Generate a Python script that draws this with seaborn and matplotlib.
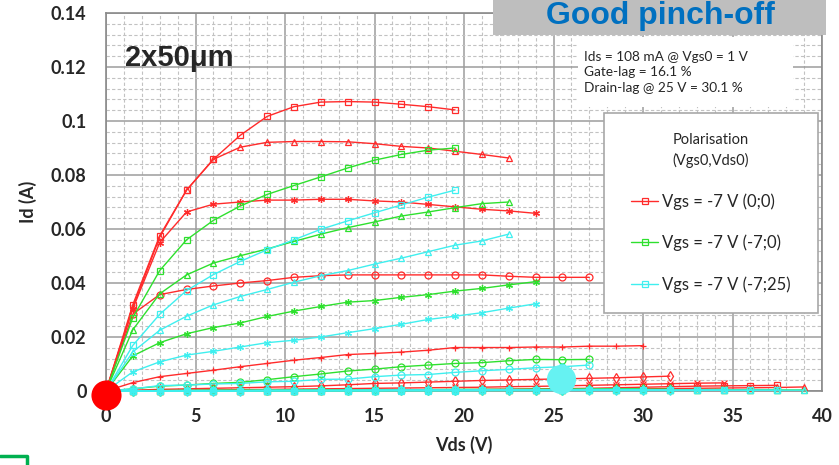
import pandas as pd
import matplotlib
matplotlib.use("Agg")
import matplotlib.pyplot as plt
from matplotlib.lines import Line2D
from matplotlib.patches import Rectangle
from matplotlib.ticker import MultipleLocator, FuncFormatter
import seaborn as sns

# Vds (V) : pas de 1.5 V
VDS = [0, 1.5, 3, 4.5, 6, 7.5, 9, 10.5, 12, 13.5, 15, 16.5, 18, 19.5, 21,
       22.5, 24, 25.5, 27, 28.5, 30, 31.5, 33, 34.5, 36, 37.5, 39]

# Polarisation (0;0) - rouge, une courbe par Vgs
rouge = [
    [0, 0.032, 0.0575, 0.0744, 0.0858, 0.0947, 0.1017, 0.1053, 0.1070, 0.1072, 0.1070, 0.1062, 0.1053, 0.1041],
    [0, 0.031, 0.0570, 0.0744, 0.0858, 0.0903, 0.0921, 0.0924, 0.0924, 0.0923, 0.0916, 0.0906, 0.0900, 0.0888, 0.0876, 0.0863],
    [0, 0.0305, 0.0550, 0.0663, 0.0692, 0.0700, 0.0707, 0.0707, 0.0710, 0.0710, 0.0704, 0.0700, 0.0691, 0.0682, 0.0673, 0.0667, 0.0658],
    [0, 0.0285, 0.0357, 0.0376, 0.0389, 0.0400, 0.0409, 0.0421, 0.0427, 0.0430, 0.0430, 0.0430, 0.0430, 0.0430, 0.0430, 0.0425, 0.0421, 0.0421, 0.0421],
    [0, 0.0031, 0.0053, 0.0065, 0.0077, 0.0090, 0.0102, 0.0114, 0.0124, 0.0135, 0.0139, 0.0144, 0.0151, 0.0161, 0.0161, 0.0161, 0.0163, 0.0163, 0.0166, 0.0166, 0.0168],
    [0, 0.0003, 0.0006, 0.0008, 0.0010, 0.0012, 0.0014, 0.0016, 0.0019, 0.0023, 0.0028, 0.0030, 0.0033, 0.0036, 0.0039, 0.0041, 0.0043, 0.0045, 0.0047, 0.0049, 0.0052, 0.0055],
    [0, 0.0001, 0.0002, 0.0003, 0.0004, 0.0005, 0.0006, 0.0007, 0.0008, 0.0009, 0.0010, 0.0011, 0.0012, 0.0013, 0.0014, 0.0016, 0.0017, 0.0019, 0.0021, 0.0023, 0.0025, 0.0027, 0.0029, 0.0030],
    [0, 0, 0, 0.0001, 0.0001, 0.0001, 0.0002, 0.0002, 0.0002, 0.0003, 0.0003, 0.0004, 0.0004, 0.0005, 0.0006, 0.0007, 0.0008, 0.0009, 0.0010, 0.0012, 0.0014, 0.0016, 0.0018, 0.0019, 0.0020, 0.0021],
    [0, 0, 0, 0, 0, 0.0001, 0.0001, 0.0001, 0.0001, 0.0002, 0.0002, 0.0002, 0.0003, 0.0003, 0.0004, 0.0004, 0.0005, 0.0005, 0.0006, 0.0007, 0.0008, 0.0009, 0.0010, 0.0011, 0.0012, 0.0013, 0.0015],
]

# Polarisation (-7;0) - vert
vert = [
    [0, 0.0272, 0.0446, 0.0560, 0.0632, 0.0685, 0.0728, 0.0761, 0.0793, 0.0826, 0.0855, 0.0876, 0.0892, 0.0900],
    [0, 0.0227, 0.0360, 0.0430, 0.0474, 0.0501, 0.0526, 0.0554, 0.0581, 0.0605, 0.0626, 0.0648, 0.0663, 0.0679, 0.0694, 0.0700],
    [0, 0.0130, 0.0179, 0.0212, 0.0235, 0.0252, 0.0276, 0.0296, 0.0313, 0.0329, 0.0335, 0.0347, 0.0357, 0.0370, 0.0380, 0.0393, 0.0405],
    [0, 0.0008, 0.0018, 0.0022, 0.0028, 0.0032, 0.0042, 0.0053, 0.0063, 0.0074, 0.0081, 0.0090, 0.0096, 0.0102, 0.0105, 0.0112, 0.0117, 0.0116, 0.0117],
    [0, 0.0001, 0.0002, 0.0002, 0.0003, 0.0003, 0.0003, 0.0004, 0.0004, 0.0004, 0.0005, 0.0005, 0.0005, 0.0006, 0.0006, 0.0006, 0.0007, 0.0007, 0.0008, 0.0008, 0.0009],
    [0, 0.0001, 0.0001, 0.0002, 0.0002, 0.0002, 0.0003, 0.0003, 0.0003, 0.0003, 0.0004, 0.0004, 0.0004, 0.0004, 0.0005, 0.0005, 0.0005, 0.0005, 0.0006, 0.0006, 0.0006, 0.0007],
    [0, 0, 0.0001, 0.0001, 0.0001, 0.0001, 0.0002, 0.0002, 0.0002, 0.0002, 0.0002, 0.0003, 0.0003, 0.0003, 0.0003, 0.0003, 0.0004, 0.0004, 0.0004, 0.0004, 0.0005, 0.0005, 0.0005, 0.0006],
    [0, 0, 0, 0.0001, 0.0001, 0.0001, 0.0001, 0.0001, 0.0002, 0.0002, 0.0002, 0.0002, 0.0002, 0.0002, 0.0003, 0.0003, 0.0003, 0.0003, 0.0003, 0.0004, 0.0004, 0.0004, 0.0004, 0.0004, 0.0005, 0.0005],
    [0, 0, 0, 0, 0, 0.0001, 0.0001, 0.0001, 0.0001, 0.0001, 0.0001, 0.0002, 0.0002, 0.0002, 0.0002, 0.0002, 0.0002, 0.0003, 0.0003, 0.0003, 0.0003, 0.0003, 0.0003, 0.0004, 0.0004, 0.0004, 0.0004],
]

# Polarisation (-7;25) - cyan
cyan = [
    [0, 0.0169, 0.0284, 0.0372, 0.0431, 0.0480, 0.0523, 0.0560, 0.0599, 0.0630, 0.0660, 0.0689, 0.0718, 0.0744],
    [0, 0.0145, 0.0225, 0.0277, 0.0319, 0.0350, 0.0376, 0.0403, 0.0427, 0.0446, 0.0470, 0.0492, 0.0516, 0.0540, 0.0556, 0.0581],
    [0, 0.0071, 0.0108, 0.0133, 0.0147, 0.0163, 0.0179, 0.0188, 0.0200, 0.0216, 0.0231, 0.0247, 0.0265, 0.0277, 0.0290, 0.0307, 0.0323],
    [0, 0.0008, 0.0020, 0.0022, 0.0026, 0.0028, 0.0034, 0.0036, 0.0043, 0.0044, 0.0053, 0.0059, 0.0061, 0.0069, 0.0075, 0.0080, 0.0086, 0.0090, 0.0096],
    [0, 0.0001, 0.0001, 0.0002, 0.0002, 0.0002, 0.0003, 0.0003, 0.0003, 0.0003, 0.0004, 0.0004, 0.0004, 0.0004, 0.0005, 0.0005, 0.0005, 0.0005, 0.0006, 0.0006, 0.0006],
    [0, 0, 0.0001, 0.0001, 0.0001, 0.0001, 0.0002, 0.0002, 0.0002, 0.0002, 0.0002, 0.0003, 0.0003, 0.0003, 0.0003, 0.0003, 0.0004, 0.0004, 0.0004, 0.0004, 0.0004, 0.0005],
    [0, 0, 0, 0.0001, 0.0001, 0.0001, 0.0001, 0.0001, 0.0001, 0.0002, 0.0002, 0.0002, 0.0002, 0.0002, 0.0002, 0.0003, 0.0003, 0.0003, 0.0003, 0.0003, 0.0003, 0.0003, 0.0004, 0.0004],
    [0, 0, 0, 0, 0.0001, 0.0001, 0.0001, 0.0001, 0.0001, 0.0001, 0.0001, 0.0002, 0.0002, 0.0002, 0.0002, 0.0002, 0.0002, 0.0002, 0.0003, 0.0003, 0.0003, 0.0003, 0.0003, 0.0003, 0.0003, 0.0003],
    [0, 0, 0, 0, 0, 0, 0.0001, 0.0001, 0.0001, 0.0001, 0.0001, 0.0001, 0.0001, 0.0001, 0.0002, 0.0002, 0.0002, 0.0002, 0.0002, 0.0002, 0.0002, 0.0002, 0.0002, 0.0003, 0.0003, 0.0003, 0.0003],
]

legendes = ["Vgs = -7 V (0;0)", "Vgs = -7 V (-7;0)", "Vgs = -7 V (-7;25)"]
infos = "Ids = 108 mA @ Vgs0 = 1 V\nGate-lag = 16.1 %\nDrain-lag @ 25 V = 30.1 %"

# points de polarisation (gros disques)
pol_vds = [0, 25.4]
pol_id = [-0.0013, 0.0043]

couleurs = ["#FF2B2B", "#2EE02E", "#3FEFEF"]
marqueurs = ["s", "^", (6, 2, 0), "o", "+", "d", "x", "s", "^"]

sns.set_theme(style="white")
plt.rcParams["font.family"] = ["Lato", "DejaVu Sans"]

fig = plt.figure(figsize=(8.39, 4.65), dpi=100)
ax = fig.add_axes([106 / 839, 74 / 465, 716 / 839, 378 / 465])

for famille, couleur in zip([rouge, vert, cyan], couleurs):
    for i, ids in enumerate(famille):
        df = pd.DataFrame({"Vds": VDS[:len(ids)], "Id": ids})
        sns.lineplot(data=df, x="Vds", y="Id", ax=ax, color=couleur, lw=1.0,
                     marker=marqueurs[i], ms=5, mfc="none", mec=couleur, mew=0.9,
                     sort=False, estimator=None, clip_on=False, zorder=3)

ax.scatter(pol_vds[:1], pol_id[:1], s=470, color="#FF0000", zorder=10, clip_on=False, linewidths=0)
ax.scatter(pol_vds[1:], pol_id[1:], s=440, color="#66F2F2", zorder=10, clip_on=False, linewidths=0)

ax.set_xlim(0, 40)
ax.set_ylim(0, 0.14)
ax.xaxis.set_major_locator(MultipleLocator(5))
ax.xaxis.set_minor_locator(MultipleLocator(1))
ax.yaxis.set_major_locator(MultipleLocator(0.02))
ax.yaxis.set_minor_locator(MultipleLocator(0.004))
ax.yaxis.set_major_formatter(FuncFormatter(lambda v, p: f"{v:g}"))
ax.grid(which="major", color="#9C9C9C", lw=1.1)
ax.grid(which="minor", color="#C2C2C2", lw=0.8, ls=(0, (3, 2)))
ax.set_axisbelow(True)
for s in ax.spines.values():
    s.set_color("#8A8A8A")
    s.set_linewidth(1.2)
ax.tick_params(which="both", length=0)
ax.tick_params(axis="y", pad=14, labelsize=13)
ax.tick_params(axis="x", pad=12, labelsize=13)
for t in ax.get_xticklabels() + ax.get_yticklabels():
    t.set_fontweight("bold")

ax.set_xlabel("Vds (V)", fontsize=13, fontweight="bold")
ax.set_ylabel("Id (A)", fontsize=13, fontweight="bold")
ax.xaxis.set_label_coords(0.5, -0.12)
ax.yaxis.set_label_coords(-0.097, 0.5)

ax.text(19 / 716, 1 - 45 / 378, "2x50μm", transform=ax.transAxes, fontsize=21,
        fontweight="bold", family=["Liberation Sans", "DejaVu Sans"], va="center", ha="left")

# cadre blanc des infos
ax.add_patch(Rectangle((0.659, 0.7513), 0.3005, 0.1852, transform=ax.transAxes,
                       facecolor="white", edgecolor="none", zorder=2))
ax.text(0.6676, 0.8439, infos, transform=ax.transAxes, fontsize=9.8,
        va="center", ha="left", linespacing=1.35, zorder=4)

# légende
ax.add_patch(Rectangle((0.6955, 0.2063), 0.2989, 0.5291, transform=ax.transAxes,
                       facecolor="white", edgecolor="#A8A8A8", lw=1.2, zorder=5))
poignees = [Line2D([], [], color=c, lw=1.0, marker="s", ms=5, mfc="none", mec=c, mew=0.9)
            for c in couleurs]
leg = ax.legend(poignees, legendes, title="Polarisation\n(Vgs0,Vds0)", loc="center",
                bbox_to_anchor=(0.845, 0.4708), frameon=False, fontsize=12,
                title_fontsize=10.5, labelspacing=1.5, handlelength=1.6,
                handletextpad=0.25, borderpad=0.2)
leg.get_title().set_multialignment("center")
leg.get_title().set_linespacing(1.45)
leg.set_zorder(6)

# bandeau "Good pinch-off"
fig.add_artist(Rectangle((493 / 839, 1 - 35 / 465), 333 / 839, 35 / 465, transform=fig.transFigure,
                         facecolor="#BEBEBE", edgecolor="none", zorder=20))
fig.text(660 / 839, 1 - 24 / 465, "Good pinch-off", color="#0070C0", fontsize=23,
         fontweight="bold", family=["Liberation Sans", "DejaVu Sans"],
         ha="center", va="baseline", zorder=21)

# coin vert en bas à gauche
fig.add_artist(Line2D([0, 27 / 839, 27 / 839], [1 - 456 / 465, 1 - 456 / 465, 0],
                      transform=fig.transFigure, color="#00B050", lw=2.5, zorder=20))

fig.savefig("out.png", dpi=100)
